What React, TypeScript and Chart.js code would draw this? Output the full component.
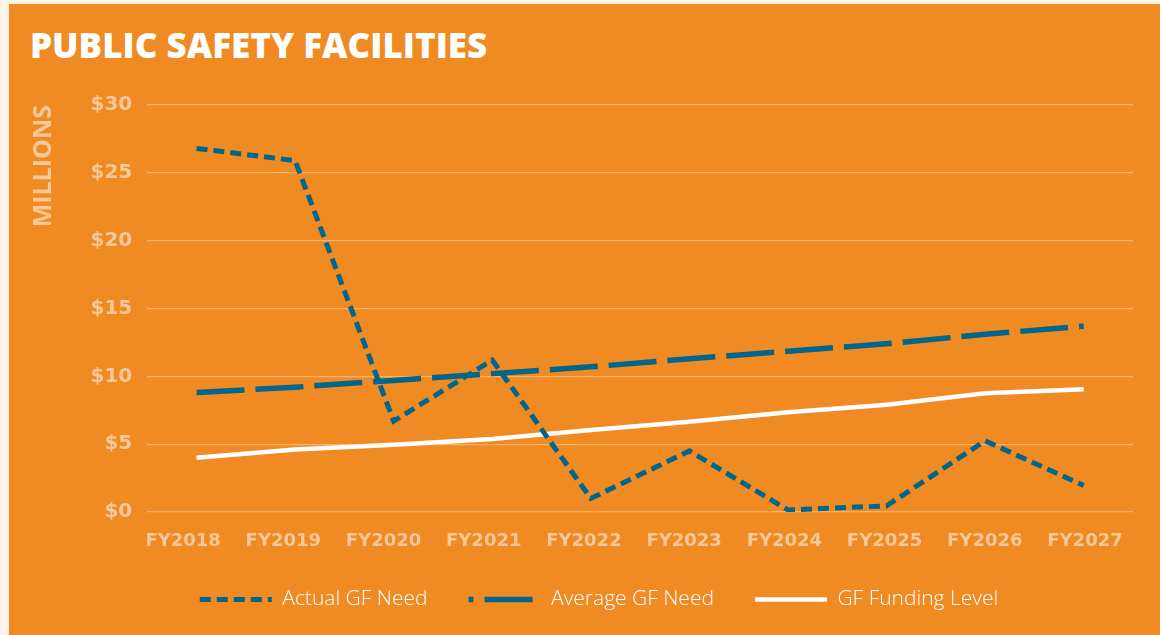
import React, { useEffect, useRef } from 'react';
import { Chart, registerables } from 'chart.js';

Chart.register(...registerables);

const categories = ['FY2018', 'FY2019', 'FY2020', 'FY2021', 'FY2022', 'FY2023', 'FY2024', 'FY2025', 'FY2026', 'FY2027'];
const actualNeed = [26.8, 25.9, 6.7, 11.2, 1.0, 4.5, 0.15, 0.45, 5.25, 1.95];
const averageNeed = [8.8, 9.2, 9.7, 10.2, 10.7, 11.3, 11.85, 12.4, 13.1, 13.7];
const fundingLevel = [4.0, 4.6, 4.95, 5.38, 6.05, 6.65, 7.35, 7.9, 8.75, 9.05];
const yMin = 0;
const yMax = 30;
const yStep = 5;
const seriesNames = ['Actual GF Need', 'Average GF Need', 'GF Funding Level'];

const ORANGE = '#F08A22';
const BLUE = '#00668C';
const PEACH = '#F9C899';
const GRID = 'rgba(253, 208, 160, 0.6)';
const CREAM = '#FDF3E8';

export default function App() {
  const ref = useRef<HTMLCanvasElement>(null);

  useEffect(() => {
    document.body.style.margin = '0';
    document.body.style.background = CREAM;
    document.body.style.overflow = 'hidden';
    const canvas = ref.current;
    if (!canvas) return;
    const chart = new Chart(canvas, {
      type: 'line',
      data: {
        labels: categories,
        datasets: [
          {
            label: seriesNames[0],
            data: actualNeed,
            borderColor: BLUE,
            borderWidth: 5,
            borderDash: [11, 6],
            pointRadius: 0,
            tension: 0,
            fill: false,
          },
          {
            label: seriesNames[1],
            data: averageNeed,
            borderColor: BLUE,
            borderWidth: 5.5,
            borderDash: [48, 11],
            pointRadius: 0,
            tension: 0,
            fill: false,
          },
          {
            label: seriesNames[2],
            data: fundingLevel,
            borderColor: '#FFFFFF',
            borderWidth: 4.5,
            pointRadius: 0,
            tension: 0,
            fill: false,
          },
        ],
      },
      options: {
        responsive: false,
        animation: false,
        layout: { padding: { left: 56, right: 27, top: 101, bottom: 15 } },
        plugins: {
          tooltip: { enabled: false },
          title: { display: false },
          legend: {
            display: true,
            position: 'bottom',
            labels: {
              color: '#FFFFFF',
              font: { family: 'Open Sans', size: 21, weight: '300' },
              usePointStyle: true,
              pointStyleWidth: 72,
              boxHeight: 10,
              padding: 41,
              generateLabels: (c: any) =>
                c.data.datasets.map((ds: any, i: number) => ({
                  text: ds.label,
                  fillStyle: 'rgba(0,0,0,0)',
                  strokeStyle: ds.borderColor,
                  lineWidth: ds.borderWidth,
                  lineDash: ds.borderDash || [],
                  lineDashOffset: i === 1 ? 43 : 0,
                  lineCap: 'butt',
                  pointStyle: 'line',
                  fontColor: '#FFFFFF',
                  hidden: false,
                  datasetIndex: i,
                })),
            },
          },
        },
        scales: {
          x: {
            type: 'category',
            offset: true,
            display: false,
          },
          x2: {
            type: 'linear',
            position: 'bottom',
            min: -0.358,
            max: 9.479,
            grid: { display: false, drawTicks: false },
            border: { display: false },
            afterFit: (scale: any) => {
              scale.height = 36;
            },
            ticks: {
              stepSize: 1,
              includeBounds: false,
              autoSkip: false,
              maxRotation: 0,
              padding: 19,
              color: PEACH,
              font: { family: 'DejaVu Sans', size: 18, weight: 'bold', lineHeight: 1.2 },
              callback: (v: any) => (Number.isInteger(v) && categories[v] ? categories[v] : ''),
            },
          },
          y: {
            min: yMin,
            max: yMax,
            grid: { color: GRID, lineWidth: 1.2, drawTicks: false },
            border: { display: false },
            ticks: {
              stepSize: yStep,
              padding: 15,
              color: PEACH,
              font: { family: 'DejaVu Sans', size: 20, weight: 'bold' },
              callback: (v: any) => '$' + v,
            },
            title: {
              display: true,
              text: 'MILLIONS',
              align: 'end',
              color: PEACH,
              font: { family: 'Open Sans', size: 25, weight: 'bold', lineHeight: 1.2 },
              padding: { top: -36.5, bottom: 17 },
            },
          },
        },
      },
    } as any);
    return () => chart.destroy();
  }, []);

  return (
    <div
      style={{
        position: 'absolute',
        left: 9,
        top: 4,
        width: 1151,
        height: 631,
        background: ORANGE,
        overflow: 'hidden',
      }}
    >
      <div
        style={{
          position: 'absolute',
          left: 21,
          top: 23,
          color: '#FFFFFF',
          fontFamily: "'Open Sans', sans-serif",
          fontWeight: 800,
          fontSize: 35,
          lineHeight: 1,
          whiteSpace: 'nowrap',
        }}
      >
        PUBLIC SAFETY FACILITIES
      </div>
      <canvas ref={ref} width={1151} height={631} style={{ position: 'absolute', left: 0, top: 0 }} />
    </div>
  );
}
